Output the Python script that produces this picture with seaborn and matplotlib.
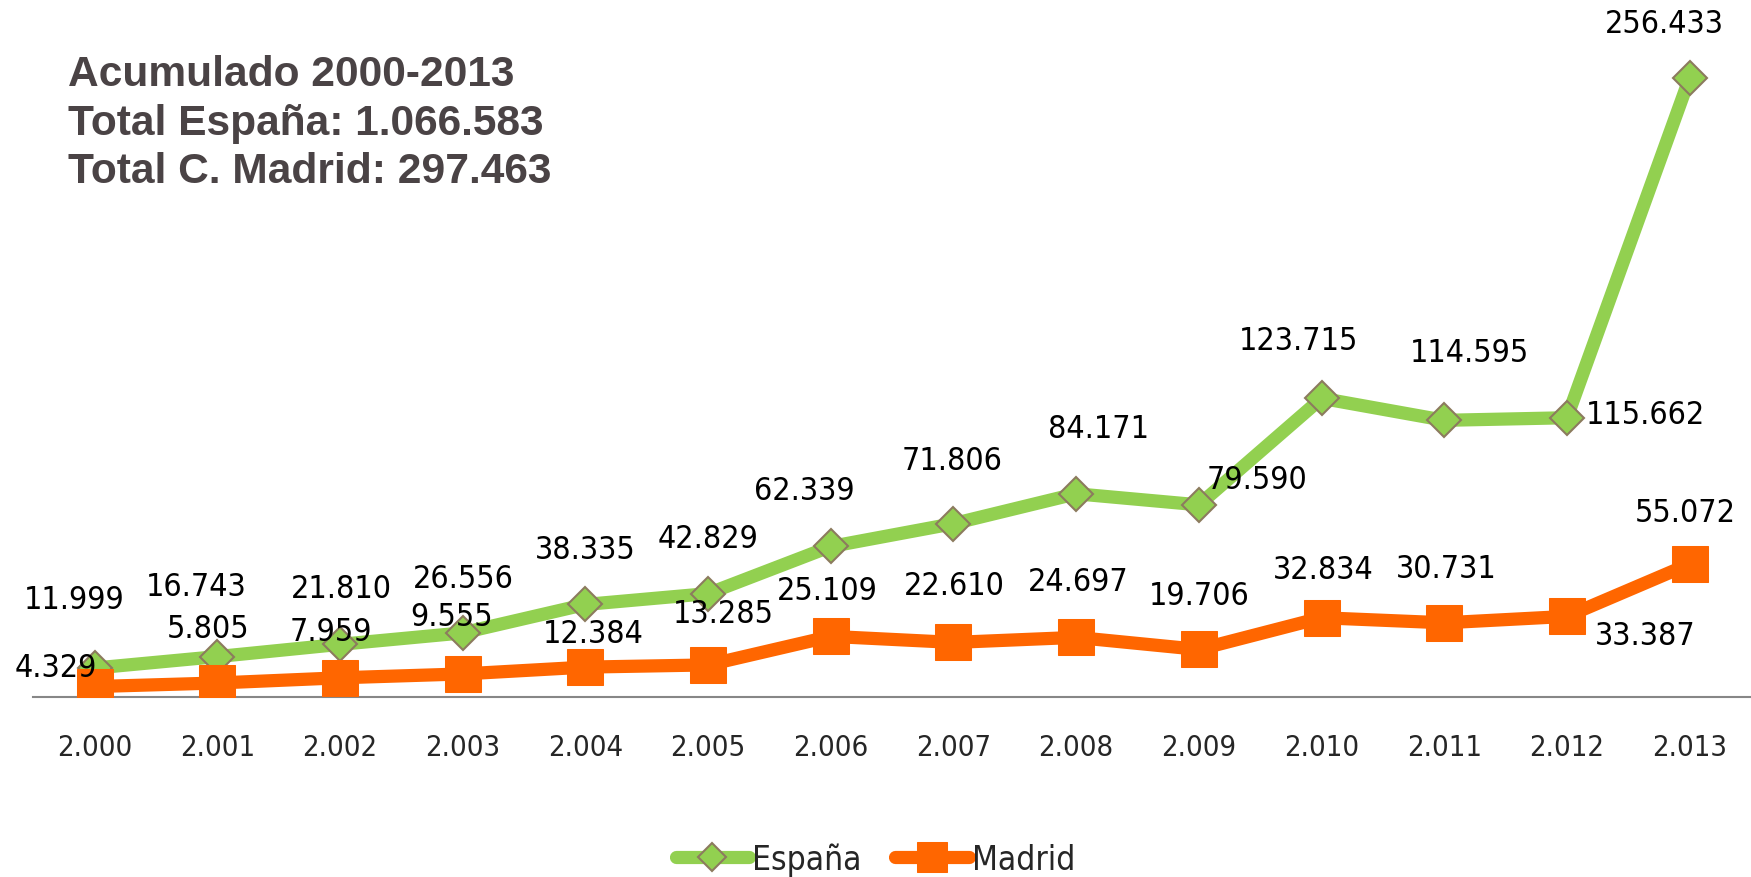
import numpy as np
import pandas as pd
import matplotlib
matplotlib.use('Agg')
import matplotlib.pyplot as plt
from matplotlib import font_manager
import seaborn as sns

# Data
years = ['2.000', '2.001', '2.002', '2.003', '2.004', '2.005', '2.006',
         '2.007', '2.008', '2.009', '2.010', '2.011', '2.012', '2.013']
espana = [11.999, 16.743, 21.810, 26.556, 38.335, 42.829, 62.339,
          71.806, 84.171, 79.590, 123.715, 114.595, 115.662, 256.433]
madrid = [4.329, 5.805, 7.959, 9.555, 12.384, 13.285, 25.109,
          22.610, 24.697, 19.706, 32.834, 30.731, 33.387, 55.072]
summary = ['Acumulado 2000-2013', 'Total España: 1.066.583', 'Total C. Madrid: 297.463']

# label offsets (pixels) relative to each point, as Excel placed them
esp_off = [(-20, 69), (-21, 70), (1, 56), (1, 54), (0, 55), (0, 55), (-26, 56),
           (-1, 63), (22, 65), (58, 25), (-23, 58), (25, 68), (78, 3), (-25, 54)]
mad_off = [(-39, 19), (-9, 54), (-9, 46), (-11, 57), (8, 34), (15, 51), (-3, 46),
           (1, 57), (2, 56), (0, 54), (2, 48), (2, 54), (78, -19), (-4, 52)]

sns.set_style('white')

# pick the narrowest installed face for the Excel-style labels
fonts = font_manager.fontManager.ttflist
names = {f.name for f in fonts}
if 'Liberation Sans Narrow' in names:
    lab_font = dict(family=['Liberation Sans Narrow', 'DejaVu Sans'])
    lab_size, tick_size, leg_size = 25, 21, 24
elif any(f.name == 'DejaVu Sans' and str(f.stretch) in ('condensed', '400', 'semi-condensed') for f in fonts):
    lab_font = dict(family=['DejaVu Sans'], stretch='condensed')
    lab_size, tick_size, leg_size = 23, 21, 24
else:
    lab_font = dict(family=['Liberation Sans', 'DejaVu Sans'])
    lab_size, tick_size, leg_size = 20, 19, 21
plt.rcParams['font.family'] = lab_font['family']
if 'stretch' in lab_font:
    plt.rcParams['font.stretch'] = 'condensed'

green = '#92D050'
orange = '#FF6600'

x = np.arange(len(years))
df_esp = pd.DataFrame({'x': x, 'v': espana})
df_mad = pd.DataFrame({'x': x, 'v': madrid})

fig = plt.figure(figsize=(17.51, 8.78), dpi=100)
ax = fig.add_axes([0.019, 0.205, 0.981, 0.77])

sns.lineplot(data=df_esp, x='x', y='v', ax=ax, color=green, lw=9.5,
             marker='D', markersize=17, markerfacecolor=green,
             markeredgecolor='#8C7B5E', markeredgewidth=1.5, label='España', zorder=3)
sns.lineplot(data=df_mad, x='x', y='v', ax=ax, color=orange, lw=9.5,
             marker='s', markersize=26, markerfacecolor=orange,
             markeredgecolor=orange, label='Madrid', zorder=4)

for xi, v, off in zip(x, espana, esp_off):
    ax.annotate(f'{v:.3f}', (xi, v), xytext=off, textcoords='offset pixels',
                ha='center', va='center', fontsize=lab_size, color='black', zorder=5)
for xi, v, off in zip(x, madrid, mad_off):
    ax.annotate(f'{v:.3f}', (xi, v), xytext=off, textcoords='offset pixels',
                ha='center', va='center', fontsize=lab_size, color='black', zorder=5)

ax.set_xlim(-0.5, 13.5)
ax.set_ylim(0, 280)
ax.set_xlabel('')
ax.set_ylabel('')
ax.set_yticks([])
ax.set_xticks(x)
ax.set_xticklabels(years, fontsize=tick_size)
ax.set_xticks(np.arange(-0.5, 14, 1), minor=True)
ax.tick_params(axis='x', which='major', length=0, pad=26)
ax.tick_params(axis='x', which='minor', length=10, width=1.5, color='#878787', direction='out')
for s in ['top', 'right', 'left']:
    ax.spines[s].set_visible(False)
ax.spines['bottom'].set_color('#878787')
ax.spines['bottom'].set_linewidth(1.5)

ax.legend(loc='lower center', bbox_to_anchor=(0.5, -0.033), bbox_transform=fig.transFigure,
          ncol=2, frameon=False, fontsize=leg_size, handlelength=2.2, columnspacing=1.0,
          handletextpad=0.1, markerscale=0.85)

fig.text(0.039, 0.937, '\n'.join(summary), fontsize=30.6, fontweight='bold',
         family=['Liberation Sans', 'DejaVu Sans'], stretch='normal', color='#4A4345',
         va='top', ha='left', linespacing=1.27)

fig.savefig('out.png', dpi=100)
